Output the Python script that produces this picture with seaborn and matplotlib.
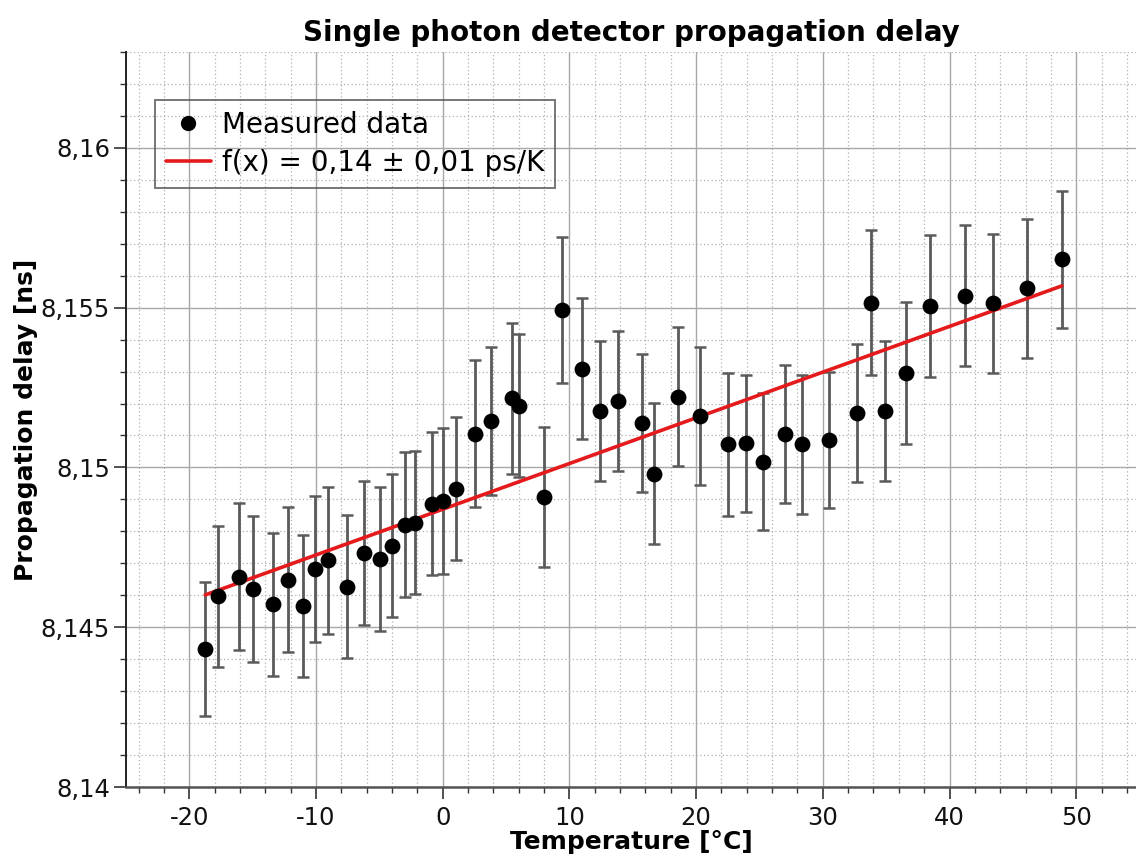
import numpy as np
import pandas as pd
import matplotlib
matplotlib.use("Agg")
import matplotlib.pyplot as plt
import seaborn as sns
from matplotlib.ticker import MultipleLocator, FuncFormatter
from matplotlib.lines import Line2D

# ---- data ----
temperature = [-18.75, -17.70, -16.07, -14.96, -13.36, -12.18, -10.99, -10.07, -9.04, -7.57,
               -6.20, -4.94, -4.02, -2.99, -2.15, -0.86, 0.03, 1.06, 2.56, 3.82,
               5.45, 6.01, 7.98, 9.45, 11.00, 12.40, 13.82, 15.76, 16.69, 18.60,
               20.29, 22.50, 23.95, 25.29, 27.00, 28.37, 30.50, 32.71, 33.84, 34.89,
               36.55, 38.47, 41.26, 43.44, 46.12, 48.86]
delay = [8.14431, 8.14597, 8.14658, 8.14620, 8.14572, 8.14649, 8.14566, 8.14682, 8.14710, 8.14627,
         8.14733, 8.14714, 8.14755, 8.14820, 8.14827, 8.14886, 8.14894, 8.14934, 8.15106, 8.15145,
         8.15216, 8.15193, 8.14908, 8.15492, 8.15309, 8.15177, 8.15207, 8.15138, 8.14981, 8.15221,
         8.15161, 8.15073, 8.15075, 8.15018, 8.15105, 8.15072, 8.15086, 8.15170, 8.15516, 8.15178,
         8.15295, 8.15505, 8.15538, 8.15513, 8.15560, 8.15651]
delay_err = [0.00210, 0.00220, 0.00230, 0.00228, 0.00224, 0.00228, 0.00222, 0.00228, 0.00230, 0.00224,
             0.00226, 0.00226, 0.00224, 0.00227, 0.00224, 0.00224, 0.00228, 0.00225, 0.00230, 0.00232,
             0.00235, 0.00223, 0.00220, 0.00228, 0.00220, 0.00220, 0.00219, 0.00216, 0.00220, 0.00217,
             0.00217, 0.00224, 0.00215, 0.00214, 0.00215, 0.00218, 0.00213, 0.00215, 0.00226, 0.00219,
             0.00222, 0.00223, 0.00222, 0.00219, 0.00217, 0.00215]
fit_x = [-18.75, 48.86]
fit_y = [8.14601, 8.15568]

title = "Single photon detector propagation delay"
xlabel = "Temperature [°C]"
ylabel = "Propagation delay [ns]"
data_label = "Measured data"
fit_label = "f(x) = 0,14 ± 0,01 ps/K"

df = pd.DataFrame({"T": temperature, "d": delay, "e": delay_err})
fit_df = pd.DataFrame({"x": fit_x, "y": fit_y})

sns.set_theme(style="white")
plt.rcParams['font.family'] = ['DejaVu Sans']
plt.rcParams['text.color'] = 'black'
plt.rcParams['axes.labelcolor'] = 'black'

fig = plt.figure(figsize=(11.36, 8.64), dpi=100)
ax = fig.add_axes([126/1136, 77/864, 1010/1136, 735/864])

ax.set_xlim(-25, 54.72)
ax.set_ylim(8.14, 8.163)

# grid
ax.xaxis.set_major_locator(MultipleLocator(10))
ax.xaxis.set_minor_locator(MultipleLocator(2))
ax.yaxis.set_major_locator(MultipleLocator(0.005))
ax.yaxis.set_minor_locator(MultipleLocator(0.001))
ax.grid(which="major", color="#a8a8a8", linewidth=1.0, linestyle="-", zorder=0)
ax.grid(which="minor", color="#b0b0b0", linewidth=0.9, linestyle=(0, (1, 2)), zorder=0)
ax.set_axisbelow(True)

# error bars
ax.errorbar(df["T"], df["d"], yerr=df["e"], fmt="none", ecolor="#5a5a5a",
            elinewidth=2.0, capsize=4.5, capthick=1.8, zorder=2)
# fit line
sns.lineplot(data=fit_df, x="x", y="y", ax=ax, color="#e41a1c", linewidth=2.6, zorder=3,
             legend=False)
# points
sns.scatterplot(data=df, x="T", y="d", ax=ax, color="black", s=130, edgecolor="black",
                linewidth=0, zorder=4, legend=False)

def fmt(v, pos):
    s = ("%.3f" % v).rstrip("0").rstrip(".")
    return s.replace(".", ",")
ax.yaxis.set_major_formatter(FuncFormatter(fmt))
ax.xaxis.set_major_formatter(FuncFormatter(lambda v, p: "%d" % round(v)))

for sp in ["top", "right"]:
    ax.spines[sp].set_visible(False)
ax.spines["left"].set_color("#222222")
ax.spines["bottom"].set_color("#555555")
ax.spines["left"].set_linewidth(1.4)
ax.spines["bottom"].set_linewidth(1.8)

ax.tick_params(which="major", direction="out", length=8.5, width=1.2, color="#333333",
               labelsize=17.5, labelcolor="#111111", left=True, bottom=True)
ax.tick_params(which="minor", direction="out", length=4.5, width=1.0, color="#333333",
               left=True, bottom=True)
ax.tick_params(axis="x", which="major", pad=5)
ax.tick_params(axis="y", which="major", pad=3)

ax.set_title(title, fontsize=20, fontweight="bold", pad=8)
ax.set_xlabel(xlabel, fontsize=18, fontweight="bold", labelpad=0)
ax.set_ylabel(ylabel, fontsize=18, fontweight="bold", labelpad=2)

handles = [Line2D([], [], marker="o", color="black", linestyle="none", markersize=10),
           Line2D([], [], color="#e41a1c", linewidth=2.6)]
leg = ax.legend(handles, [data_label, fit_label], loc="upper left",
                bbox_to_anchor=(0.0287, 0.9347), borderaxespad=0, fontsize=20,
                frameon=True, fancybox=False, handlelength=1.6, handletextpad=0.4,
                borderpad=0.4, labelspacing=0.35)
leg.get_frame().set_facecolor("none")
leg.get_frame().set_edgecolor("#555555")
leg.get_frame().set_linewidth(1.4)

fig.savefig("out.png", dpi=100)
